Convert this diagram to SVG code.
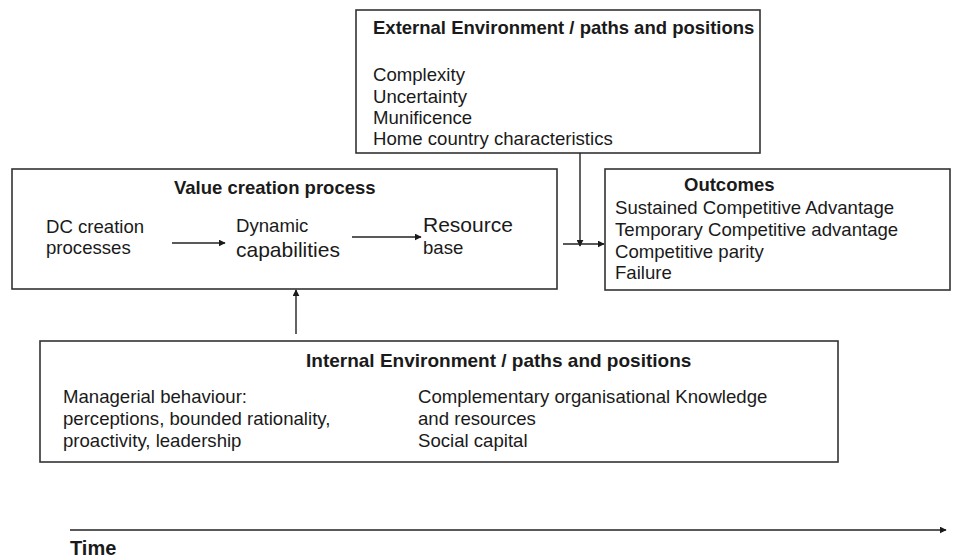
<svg xmlns="http://www.w3.org/2000/svg" width="963" height="558" viewBox="0 0 963 558">
<defs>
<marker id="ah" viewBox="0 0 10 10" refX="9" refY="5" markerWidth="7" markerHeight="7" markerUnits="userSpaceOnUse" orient="auto"><path d="M0,0 L10,5 L0,10 z" fill="#1a1a1a"/></marker>
</defs>
<style>
.box{fill:#fff;stroke:#333;stroke-width:1.6}
.t{font-family:"Liberation Sans",Arial,sans-serif;font-size:18.6px;fill:#1a1a1a}
.b{font-family:"Liberation Sans",Arial,sans-serif;font-size:18.5px;font-weight:bold;fill:#1a1a1a}
.big{font-size:21px}
.ln{stroke:#222;stroke-width:1.4;fill:none;marker-end:url(#ah)}
</style>
<rect width="963" height="558" fill="#fff"/>
<g id="external">
<rect class="box" x="356" y="10" width="404" height="143"/>
<text class="b" x="373" y="34">External Environment / paths and positions</text>
<text class="t" x="373" y="81">Complexity</text>
<text class="t" x="373" y="103">Uncertainty</text>
<text class="t" x="373" y="124">Munificence</text>
<text class="t" x="373" y="145">Home country characteristics</text>
</g>
<g id="value">
<rect class="box" x="12" y="169" width="545" height="120"/>
<text class="b" x="174" y="194">Value creation process</text>
<text class="t" x="46" y="233">DC creation</text>
<text class="t" x="46" y="254">processes</text>
<text class="t" x="236" y="232">Dynamic</text>
<text class="t big" x="236" y="257">capabilities</text>
<text class="t big" x="423" y="232">Resource</text>
<text class="t" x="423" y="254">base</text>
</g>
<g id="outcomes">
<rect class="box" x="605" y="169" width="345" height="121"/>
<text class="b" x="684" y="191">Outcomes</text>
<text class="t" x="615" y="214">Sustained Competitive Advantage</text>
<text class="t" x="615" y="236">Temporary Competitive advantage</text>
<text class="t" x="615" y="258">Competitive parity</text>
<text class="t" x="615" y="279">Failure</text>
</g>
<g id="internal">
<rect class="box" x="40" y="341" width="798" height="121"/>
<text class="b" x="306" y="367" style="font-size:19px">Internal Environment / paths and positions</text>
<text class="t" x="63" y="403">Managerial behaviour:</text>
<text class="t" x="63" y="425">perceptions, bounded rationality,</text>
<text class="t" x="63" y="447">proactivity, leadership</text>
<text class="t" x="418" y="403">Complementary organisational Knowledge</text>
<text class="t" x="418" y="425">and resources</text>
<text class="t" x="418" y="447">Social capital</text>
</g>
<g id="time">
<text class="b" x="70" y="555" style="font-size:20px">Time</text>
</g>
<g id="connectors">
<line class="ln" x1="172" y1="243" x2="225" y2="243"/>
<line class="ln" x1="352" y1="237" x2="421" y2="237"/>
<line class="ln" x1="580" y1="153" x2="580" y2="246"/>
<line class="ln" x1="563" y1="244" x2="604" y2="244"/>
<line class="ln" x1="296" y1="334" x2="296" y2="290"/>
<line class="ln" x1="70" y1="530" x2="946" y2="530"/>
</g>
</svg>
